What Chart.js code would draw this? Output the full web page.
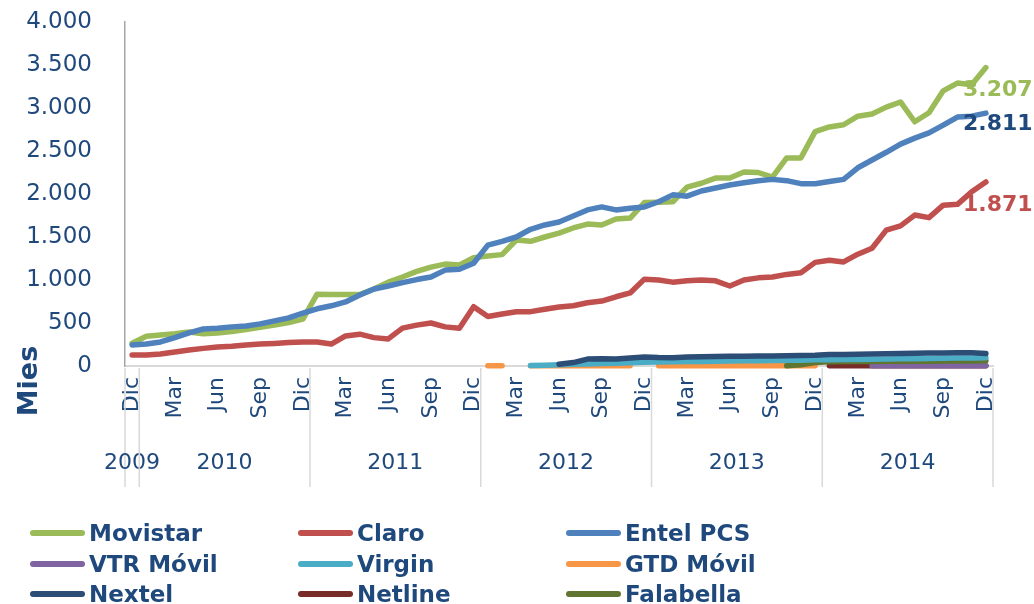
<!DOCTYPE html>
<html>
<head>
<meta charset="utf-8">
<script src="https://cdn.jsdelivr.net/npm/chart.js@4"></script>
<style>
  html, body { margin: 0; padding: 0; background: #fff; }
  #wrap { position: relative; width: 1034px; height: 604px; overflow: hidden; }
  #grafico { position: absolute; left: 0; top: 0; }
  #leyenda { position: absolute; left: 30px; top: 518px; display: grid; grid-template-columns: 268px 268px 268px; }
  .item { height: 30.5px; display: flex; align-items: center; font: bold 23px "DejaVu Sans", Verdana, sans-serif; color: #1F497D; white-space: nowrap; }
  .linea { width: 55px; height: 6px; border-radius: 3px; margin-right: 4px; }
</style>
</head>
<body>
<div id="wrap">
  <canvas id="grafico" width="1034" height="604"></canvas>
  <div id="leyenda"></div>
</div>
<script>
// Meses (Dic 2009 a Dic 2014)
var meses = ['Ene', 'Feb', 'Mar', 'Abr', 'May', 'Jun', 'Jul', 'Ago', 'Sep', 'Oct', 'Nov', 'Dic'];
var anios = [2010, 2011, 2012, 2013, 2014];

var etiquetas = ['Dic'];
var anioDeCadaMes = [2009];
anios.forEach(function(a) {
    meses.forEach(function(m) {
        etiquetas.push(m);
        anioDeCadaMes.push(a);
    });
});

// Abonados en miles
var movistar = [265, 345, 360, 375, 395, 375, 385, 400, 425, 450, 475, 505, 545,
    835, 830, 830, 830, 895, 975, 1035, 1100, 1150, 1185, 1175, 1260,
    1280, 1295, 1465, 1450, 1500, 1545, 1605, 1650, 1640, 1710, 1720, 1900,
    1905, 1910, 2080, 2125, 2185, 2185, 2255, 2250, 2195, 2420, 2420, 2725,
    2780, 2805, 2905, 2930, 3010, 3070, 2840, 2945, 3200, 3290, 3270, 3470];

var claro = [128, 128, 140, 163, 185, 205, 220, 230, 245, 255, 262, 272, 280,
    280, 255, 350, 370, 330, 315, 440, 475, 500, 455, 440, 690,
    575, 605, 630, 632, 660, 685, 700, 735, 755, 805, 850, 1010,
    1000, 975, 990, 1000, 990, 930, 1000, 1025, 1035, 1065, 1085, 1205,
    1230, 1210, 1300, 1370, 1580, 1630, 1755, 1725, 1870, 1880, 2025, 2140];

var entel = [245, 255, 280, 330, 385, 430, 440, 455, 465, 490, 525, 560, 615,
    665, 700, 745, 825, 895, 930, 970, 1005, 1035, 1115, 1125, 1195,
    1405, 1450, 1500, 1590, 1640, 1675, 1745, 1815, 1850, 1815, 1835, 1850,
    1910, 1990, 1975, 2035, 2070, 2105, 2130, 2155, 2170, 2155, 2120, 2120,
    2145, 2170, 2305, 2395, 2485, 2580, 2650, 2710, 2800, 2895, 2905, 2940];

// operadores pequeños: primer mes con dato y valores desde ahi
var vtrDesde = 52;
var vtr = [4, 4, 4, 4, 4, 4, 4, 4, 4];

var virginDesde = 28;
var virgin = [5, 10, 14, 20, 24, 28, 33, 38, 45, 46, 48, 52, 53, 56, 58, 60, 61,
    63, 66, 68, 72, 74, 75, 77, 79, 81, 83, 85, 87, 89, 92, 93, 95];

var gtdDesde = 25;
var gtd = [3, 3, null, 3, 3, 3, 3, 3, 3, 3, 3, null,
    3, 3, 3, 3, 3, 3, 3, 3, 3, 3, 3, 3];

var nextelDesde = 30;
var nextel = [20, 40, 80, 85, 82, 92, 105, 98, 97, 105, 108, 110, 113, 113, 116,
    117, 120, 122, 125, 133, 135, 137, 140, 142, 145, 148, 150, 152, 153, 153, 145];

var netlineDesde = 49;
var netline = [3, 3, 3, 3, 3, 3, 3, 3, 3, 3, 3, 3];

var falabellaDesde = 46;
var falabella = [2, 15, 40, 50, 52, 52, 53, 54, 55, 55, 56, 57, 58, 59, 60];

// etiquetas de valor al final
var valoresFinales = [
    { texto: '3.207', valor: 3207, color: '#9BBB59' },
    { texto: '2.811', valor: 2811, color: '#1F497D' },
    { texto: '1.871', valor: 1871, color: '#C0504D' }
];

function rellenar(desde, valores) {
    var serie = [];
    for (var i = 0; i < etiquetas.length; i++) {
        var j = i - desde;
        serie.push(j >= 0 && j < valores.length ? valores[j] : null);
    }
    return serie;
}

function miles(v) {
    return String(v).replace(/\B(?=(\d{3})+(?!\d))/g, '.');
}

function serie(nombre, datos, color, orden) {
    return {
        label: nombre,
        data: datos,
        borderColor: color,
        backgroundColor: color,
        borderWidth: 5.5,
        pointRadius: 0,
        tension: 0,
        borderCapStyle: 'round',
        borderJoinStyle: 'round',
        spanGaps: false,
        clip: false,
        order: orden
    };
}

var azul = '#1F497D';

// dibuja los años, separadores, titulo del eje y valores finales
var extras = {
    id: 'extras',
    afterDraw: function(chart) {
        var ctx = chart.ctx;
        var xs = chart.scales.x;
        var ys = chart.scales.y;
        var area = chart.chartArea;
        var medio = (xs.getPixelForValue(1) - xs.getPixelForValue(0)) / 2;

        ctx.save();
        ctx.strokeStyle = '#D9D9D9';
        ctx.lineWidth = 1.5;
        ctx.fillStyle = azul;
        ctx.font = '22px "DejaVu Sans", Verdana, sans-serif';
        ctx.textAlign = 'center';
        ctx.textBaseline = 'middle';

        var inicio = 0;
        for (var i = 1; i <= anioDeCadaMes.length; i++) {
            if (i === anioDeCadaMes.length || anioDeCadaMes[i] !== anioDeCadaMes[inicio]) {
                var x1 = xs.getPixelForValue(inicio) - medio;
                var x2 = xs.getPixelForValue(i - 1) + medio;
                ctx.beginPath();
                ctx.moveTo(x1, area.bottom + 2);
                ctx.lineTo(x1, area.bottom + 121);
                if (i === anioDeCadaMes.length) {
                    ctx.moveTo(x2, area.bottom + 2);
                    ctx.lineTo(x2, area.bottom + 121);
                }
                ctx.stroke();
                ctx.fillText(String(anioDeCadaMes[inicio]), (x1 + x2) / 2, area.bottom + 97);
                inicio = i;
            }
        }

        // titulo eje y
        ctx.save();
        ctx.translate(30, 381);
        ctx.rotate(-Math.PI / 2);
        ctx.font = 'bold 27px "DejaVu Sans", Verdana, sans-serif';
        ctx.fillText('Mies', 0, 0);
        ctx.restore();

        // valores al final de las lineas
        ctx.textAlign = 'left';
        ctx.font = 'bold 22px "DejaVu Sans", Verdana, sans-serif';
        valoresFinales.forEach(function(v) {
            ctx.fillStyle = v.color;
            ctx.fillText(v.texto, area.right - 30, ys.getPixelForValue(v.valor));
        });
        ctx.restore();
    }
};

var ctx = document.getElementById('grafico').getContext('2d');
var grafico = new Chart(ctx, {
    type: 'line',
    data: {
        labels: etiquetas,
        datasets: [
            serie('Movistar', movistar, '#9BBB59', 2),
            serie('Claro', claro, '#C0504D', 3),
            serie('Entel PCS', entel, '#4F81BD', 1),
            serie('VTR Móvil', rellenar(vtrDesde, vtr), '#8064A2', 8),
            serie('Virgin', rellenar(virginDesde, virgin), '#4BACC6', 5),
            serie('GTD Móvil', rellenar(gtdDesde, gtd), '#F79646', 7),
            serie('Nextel', rellenar(nextelDesde, nextel), '#2C4D75', 4),
            serie('Netline', rellenar(netlineDesde, netline), '#772C2A', 9),
            serie('Falabella', rellenar(falabellaDesde, falabella), '#5F7530', 6)
        ]
    },
    options: {
        responsive: false,
        animation: false,
        layout: { padding: { top: 22, right: 41, left: 0, bottom: 0 } },
        plugins: {
            legend: { display: false },
            tooltip: { enabled: false }
        },
        scales: {
            x: {
                offset: true,
                grid: { display: false, drawTicks: false },
                border: { display: true, color: '#D9D9D9', width: 2 },
                ticks: {
                    autoSkip: false,
                    minRotation: 90,
                    maxRotation: 90,
                    padding: 11,
                    color: azul,
                    font: { family: '"DejaVu Sans", Verdana, sans-serif', size: 22 },
                    callback: function(valor, indice) {
                        return indice % 3 === 0 ? etiquetas[indice] : '';
                    }
                },
                afterFit: function(escala) { escala.height = 238; }
            },
            y: {
                min: 0,
                max: 4000,
                grid: { display: false, drawTicks: false },
                border: { display: true, color: '#A6A6A6', width: 1.5 },
                ticks: {
                    stepSize: 500,
                    padding: 33,
                    color: azul,
                    font: { family: '"DejaVu Sans", Verdana, sans-serif', size: 23 },
                    callback: function(v) { return miles(v); }
                },
                afterFit: function(escala) {
                    escala.width = 125;
                    escala.paddingTop = 0;
                    escala.paddingBottom = 0;
                }
            }
        }
    },
    plugins: [extras]
});

// leyenda en tres columnas
var leyenda = document.getElementById('leyenda');
grafico.data.datasets.forEach(function(ds) {
    var item = document.createElement('div');
    item.className = 'item';
    var linea = document.createElement('span');
    linea.className = 'linea';
    linea.style.background = ds.borderColor;
    item.appendChild(linea);
    item.appendChild(document.createTextNode(ds.label));
    leyenda.appendChild(item);
});
</script>
</body>
</html>
